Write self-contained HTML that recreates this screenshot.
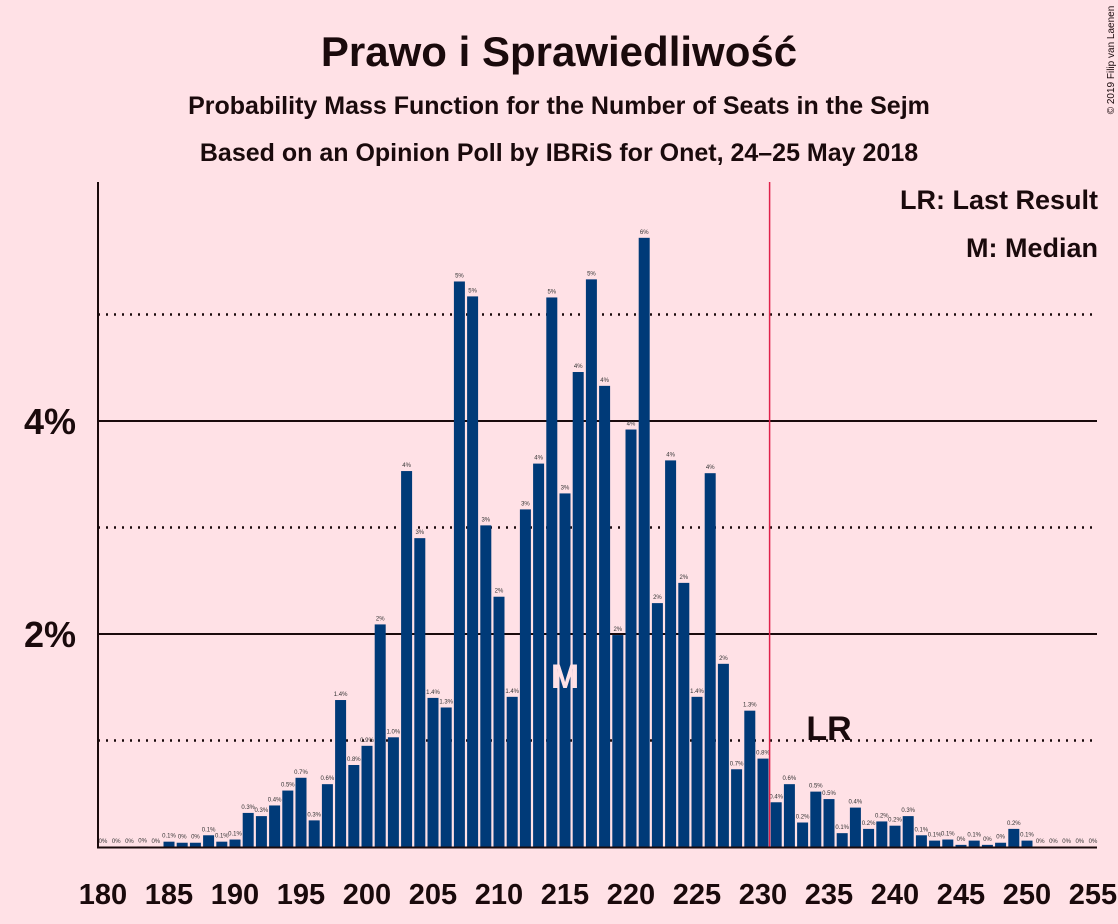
<!DOCTYPE html>
<html><head><meta charset="utf-8"><style>
body{margin:0;background:#ffe1e6;}
svg{display:block;font-family:"Liberation Sans",sans-serif;}
</style></head><body>
<svg id="c" width="1118" height="924">
<rect width="1118" height="924" fill="#ffe1e6"/>
<text x="559" y="66" text-anchor="middle" font-size="42" font-weight="bold" fill="#1a0a0c">Prawo i Sprawiedliwość</text>
<text x="559" y="114" text-anchor="middle" font-size="25" font-weight="bold" fill="#1a0a0c">Probability Mass Function for the Number of Seats in the Sejm</text>
<text x="559" y="161" text-anchor="middle" font-size="25" font-weight="bold" fill="#1a0a0c">Based on an Opinion Poll by IBRiS for Onet, 24–25 May 2018</text>
<text x="1098" y="209" text-anchor="end" font-size="27" font-weight="bold" fill="#1a0a0c">LR: Last Result</text>
<text x="1098" y="257" text-anchor="end" font-size="27" font-weight="bold" fill="#1a0a0c">M: Median</text>
<text transform="translate(1114,60) rotate(-90)" text-anchor="middle" font-size="10" fill="#1a0a0c">© 2019 Filip van Laenen</text>
<g id="grid"></g><g id="bars"></g><g id="axes"></g>
</svg>
<script>
const seats=[];for(let s=180;s<=255;s++)seats.push(s);
const probs=[0,0,0,0.005,0,0.05,0.04,0.04,0.11,0.05,0.07,0.32,0.29,0.39,0.53,0.65,0.25,0.59,1.38,0.77,0.95,2.09,1.03,3.53,2.90,1.40,1.31,5.31,5.17,3.02,2.35,1.41,3.17,3.60,5.16,3.32,4.46,5.33,4.33,1.99,3.92,5.72,2.29,3.63,2.48,1.41,3.51,1.72,0.73,1.28,0.83,0.42,0.59,0.23,0.52,0.45,0.13,0.37,0.17,0.24,0.20,0.29,0.11,0.06,0.07,0.02,0.06,0.02,0.04,0.17,0.06,0,0,0,0,0];
const xTicks=[180,185,190,195,200,205,210,215,220,225,230,235,240,245,250,255];
const yTicks=[1,2,3,4,5];
const yLabels={2:"2%",4:"4%"};
const majority=230.5, lastResult=235, median=215;
const NS="http://www.w3.org/2000/svg";
const x=s=>103+(s-180)*13.2;
const y=v=>847-v*106.5;
function mk(tag,attrs,parent){const e=document.createElementNS(NS,tag);for(const k in attrs)e.setAttribute(k,attrs[k]);parent.appendChild(e);return e;}
const grid=document.getElementById('grid'),bars=document.getElementById('bars'),axes=document.getElementById('axes');
yTicks.forEach(t=>{
  const solid=t%2===0;
  const l=mk('line',{x1:98,x2:1097,y1:y(t),y2:y(t),stroke:'#1a0a0c','stroke-width':solid?2:2.5,'stroke-dasharray':solid?'none':'2 6'},grid);
  
  
  if(yLabels[t]){
    const tx=mk('text',{x:76,y:y(t)+13,'text-anchor':'end','font-size':36,'font-weight':'bold',fill:'#1a0a0c'},axes);
    tx.textContent=yLabels[t];
    
    
  }
});
function fmt(v){if(v<0.05)return "0%";if(v<1.5)return v.toFixed(1)+"%";return Math.round(v)+"%";}
seats.forEach((s,i)=>{
  const v=probs[i],h=v*106.5;
  const r=mk('rect',{x:x(s)-5.5,y:y(v),width:11,height:Math.max(h,0),fill:'#003a78'},bars);
  
  
  const t=mk('text',{x:x(s),y:y(v)-4,'text-anchor':'middle','font-size':6,fill:'#333'},bars);
  t.textContent=fmt(v);
  
  
});
const ml=mk('line',{x1:x(majority),x2:x(majority),y1:182,y2:847,stroke:'#e0204a','stroke-width':1.5},axes);


const ya=mk('line',{x1:98,x2:98,y1:182,y2:848,stroke:'#1a0a0c','stroke-width':2},axes);


const xa=mk('line',{x1:97,x2:1097,y1:847.5,y2:847.5,stroke:'#1a0a0c','stroke-width':2},axes);


xTicks.forEach(s=>{
  const t=mk('text',{x:x(s),y:904,'text-anchor':'middle','font-size':29,'font-weight':'bold',fill:'#1a0a0c'},axes);
  t.textContent=s;
  
  
});
const lr=mk('text',{x:x(lastResult),y:740,'text-anchor':'middle','font-size':34,'font-weight':'bold',fill:'#1a0a0c'},axes);
lr.textContent='LR';


const md=mk('text',{x:x(median),y:688,'text-anchor':'middle','font-size':34,'font-weight':'bold',fill:'#ffe1e6'},axes);
md.textContent='M';


</script>
</body></html>
